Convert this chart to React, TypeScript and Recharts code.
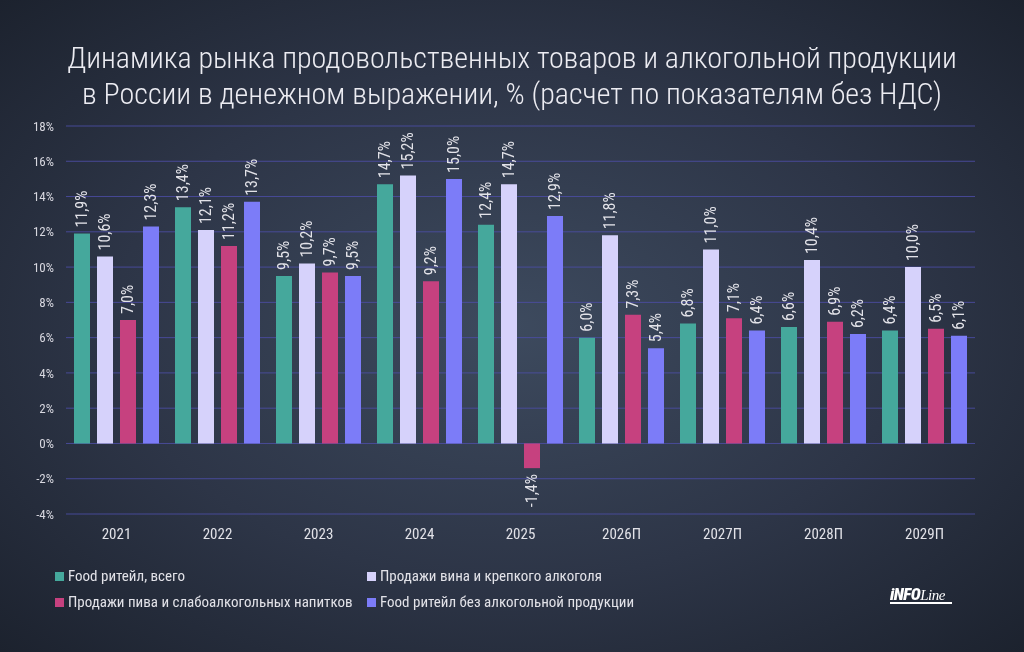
import React from 'react';
import { BarChart, Bar, XAxis, YAxis, CartesianGrid, LabelList } from 'recharts';

const years = ['2021', '2022', '2023', '2024', '2025', '2026П', '2027П', '2028П', '2029П'];
const foodTotal = [11.9, 13.4, 9.5, 14.7, 12.4, 6.0, 6.8, 6.6, 6.4];
const wineSpirits = [10.6, 12.1, 10.2, 15.2, 14.7, 11.8, 11.0, 10.4, 10.0];
const beerLight = [7.0, 11.2, 9.7, 9.2, -1.4, 7.3, 7.1, 6.9, 6.5];
const foodNoAlco = [12.3, 13.7, 9.5, 15.0, 12.9, 5.4, 6.4, 6.2, 6.1];
const yTicks = [-4, -2, 0, 2, 4, 6, 8, 10, 12, 14, 16, 18];

const series = [
  { key: 'foodTotal', name: 'Food ритейл, всего', color: '#45a89c' },
  { key: 'wineSpirits', name: 'Продажи вина и крепкого алкоголя', color: '#d6d2fb' },
  { key: 'beerLight', name: 'Продажи пива и слабоалкогольных напитков', color: '#c6417f' },
  { key: 'foodNoAlco', name: 'Food ритейл без алкогольной продукции', color: '#7c7cf8' },
];

const data = years.map((year, i) => ({
  year,
  foodTotal: foodTotal[i],
  wineSpirits: wineSpirits[i],
  beerLight: beerLight[i],
  foodNoAlco: foodNoAlco[i],
}));

const FONT = '"Roboto Condensed", "Liberation Sans Narrow", Roboto, sans-serif';
const fmt = (v: number) => `${v.toFixed(1).replace('.', ',')}%`;

function RotatedLabel(props: any) {
  const { x, y, width, height, value } = props;
  const cx = x + width / 2 + 5;
  const neg = value < 0;
  const yy = neg ? Math.max(y, y + height) + 6 : Math.min(y, y + height) - 6;
  return (
    <text
      x={cx}
      y={yy}
      transform={`rotate(-90 ${cx} ${yy})`}
      textAnchor={neg ? 'end' : 'start'}
      fill="#e2e2e8"
      fontSize={16}
      fontFamily={FONT}
    >
      {fmt(value)}
    </text>
  );
}

export default function App() {
  return (
    <div
      style={{
        position: 'fixed',
        left: 0,
        top: 0,
        width: 1024,
        height: 652,
        background: 'radial-gradient(ellipse at 50% 50%, #3d4a5e 0%, #2d3547 55%, #1c222e 100%)',
        fontFamily: FONT,
        overflow: 'hidden',
      }}
    >
      <div
        style={{
          position: 'absolute',
          top: 40,
          left: 0,
          width: 1024,
          textAlign: 'center',
          color: '#ececf2',
          fontSize: 30,
          fontWeight: 300,
          lineHeight: '36px',
        }}
      >
        Динамика рынка продовольственных товаров и алкогольной продукции
        <br />в России в денежном выражении, % (расчет по показателям без НДС)
      </div>
      <div style={{ position: 'absolute', left: 0, top: 0 }}>
        <BarChart
          width={1024}
          height={652}
          data={data}
          margin={{ top: 126, right: 49, bottom: 108, left: 0 }}
          barSize={16}
          barGap={7}
        >
          <CartesianGrid vertical={false} stroke="#4c4ea6" strokeOpacity={0.85} />
          <XAxis
            dataKey="year"
            axisLine={false}
            tickLine={false}
            tickSize={0}
            tickMargin={14}
            height={30}
            tick={{ fill: '#e2e2e8', fontSize: 15, fontFamily: FONT }}
          />
          <YAxis
            width={66}
            domain={[-4, 18]}
            ticks={yTicks}
            axisLine={false}
            tickLine={false}
            tickSize={0}
            tickMargin={12}
            tickFormatter={(v: number) => `${v}%`}
            tick={{ fill: '#d8d8e0', fontSize: 13, fontFamily: FONT }}
          />
          {series.map((s) => (
            <Bar key={s.key} dataKey={s.key} fill={s.color} isAnimationActive={false}>
              <LabelList dataKey={s.key} content={RotatedLabel} />
            </Bar>
          ))}
        </BarChart>
      </div>
      <div style={{ position: 'absolute', top: 567, left: 55, color: '#e2e2e8', fontSize: 15 }}>
        {[0, 2, 1, 3].map((idx, k) => {
          const s = series[idx];
          const col = k < 2 ? 0 : 1;
          const row = k % 2;
          return (
            <div
              key={s.key}
              style={{
                position: 'absolute',
                left: col * 312,
                top: row * 26,
                whiteSpace: 'nowrap',
                display: 'flex',
                alignItems: 'center',
              }}
            >
              <span style={{ width: 9, height: 9, background: s.color, marginRight: 4, display: 'inline-block' }} />
              {s.name}
            </div>
          );
        })}
      </div>
      <div
        style={{
          position: 'absolute',
          left: 890,
          top: 584,
          color: '#ffffff',
          fontSize: 17,
          fontWeight: 900,
          fontStyle: 'italic',
          letterSpacing: -0.5,
        }}
      >
        iNFO<span style={{ fontFamily: 'serif', fontWeight: 400, fontSize: 15 }}>Line</span>
        <div style={{ height: 2, width: 62, background: '#fff', marginTop: -2 }} />
      </div>
    </div>
  );
}
